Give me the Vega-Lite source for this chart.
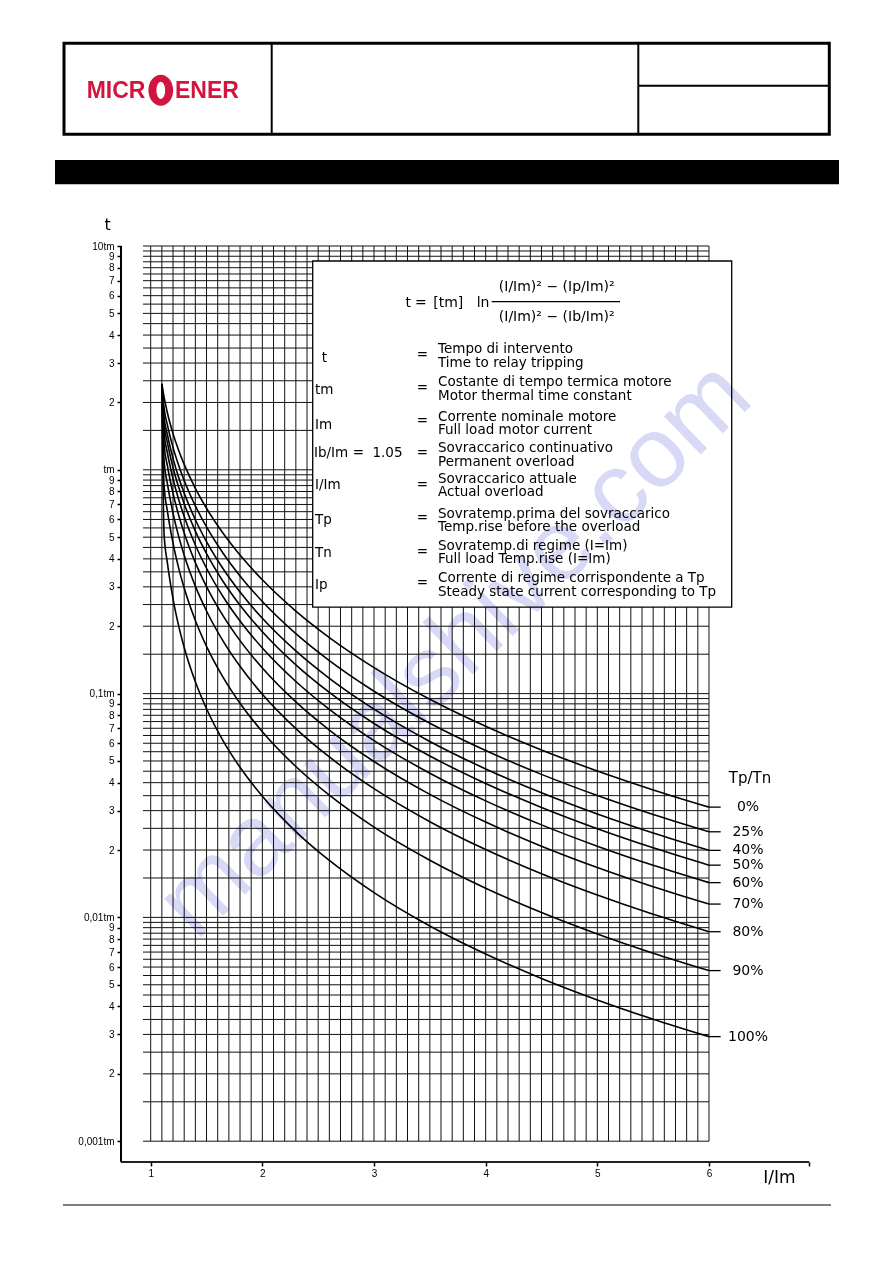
{
"$schema": "https://vega.github.io/schema/vega-lite/v6.json",
"width": 893, "height": 1263,
"autosize": {"type": "fit", "contains": "padding"},
"padding": 0,
"background": "white",
"config": {"view": {"stroke": null}},
"datasets": {
"one": [{}],
"vgrid": [{"x":1},{"x":1.1},{"x":1.2},{"x":1.3},{"x":1.4},{"x":1.5},{"x":1.6},{"x":1.7},{"x":1.8},{"x":1.9},{"x":2},{"x":2.1},{"x":2.2},{"x":2.3},{"x":2.4},{"x":2.5},{"x":2.6},{"x":2.7},{"x":2.8},{"x":2.9},{"x":3},{"x":3.1},{"x":3.2},{"x":3.3},{"x":3.4},{"x":3.5},{"x":3.6},{"x":3.7},{"x":3.8},{"x":3.9},{"x":4},{"x":4.1},{"x":4.2},{"x":4.3},{"x":4.4},{"x":4.5},{"x":4.6},{"x":4.7},{"x":4.8},{"x":4.9},{"x":5},{"x":5.1},{"x":5.2},{"x":5.3},{"x":5.4},{"x":5.5},{"x":5.6},{"x":5.7},{"x":5.8},{"x":5.9},{"x":6}],
"hgrid": [{"t":0.001},{"t":0.0015},{"t":0.002},{"t":0.0025},{"t":0.003},{"t":0.0035},{"t":0.004},{"t":0.0045},{"t":0.005},{"t":0.0055},{"t":0.006},{"t":0.0065},{"t":0.007},{"t":0.0075},{"t":0.008},{"t":0.0085},{"t":0.009},{"t":0.0095},
{"t":0.01},{"t":0.015},{"t":0.02},{"t":0.025},{"t":0.03},{"t":0.035},{"t":0.04},{"t":0.045},{"t":0.05},{"t":0.055},{"t":0.06},{"t":0.065},{"t":0.07},{"t":0.075},{"t":0.08},{"t":0.085},{"t":0.09},{"t":0.095},
{"t":0.1},{"t":0.15},{"t":0.2},{"t":0.25},{"t":0.3},{"t":0.35},{"t":0.4},{"t":0.45},{"t":0.5},{"t":0.55},{"t":0.6},{"t":0.65},{"t":0.7},{"t":0.75},{"t":0.8},{"t":0.85},{"t":0.9},{"t":0.95},
{"t":1},{"t":1.5},{"t":2},{"t":2.5},{"t":3},{"t":3.5},{"t":4},{"t":4.5},{"t":5},{"t":5.5},{"t":6},{"t":6.5},{"t":7},{"t":7.5},{"t":8},{"t":8.5},{"t":9},{"t":9.5},{"t":10}],
"ends": [{"label":"0%","t":0.0311},{"label":"25%","t":0.02413},{"label":"40%","t":0.01993},{"label":"50%","t":0.01712},{"label":"60%","t":0.0143},{"label":"70%","t":0.01147},{"label":"80%","t":0.008631},{"label":"90%","t":0.005786},{"label":"100%","t":0.002933}],
"curves": [
{"c":"0%","x":1.1,"t":2.42},{"c":"0%","x":1.12,"t":2.111},{"c":"0%","x":1.15,"t":1.794},{"c":"0%","x":1.2,"t":1.451},{"c":"0%","x":1.25,"t":1.223},{"c":"0%","x":1.3,"t":1.057},{"c":"0%","x":1.4,"t":0.8267},{"c":"0%","x":1.5,"t":0.6733},{"c":"0%","x":1.65,"t":0.5191},{"c":"0%","x":1.8,"t":0.4159},{"c":"0%","x":2.0,"t":0.3225},{"c":"0%","x":2.3,"t":0.2337},{"c":"0%","x":2.6,"t":0.178},{"c":"0%","x":3.0,"t":0.1307},{"c":"0%","x":3.5,"t":0.0943},{"c":"0%","x":4.0,"t":0.0714},{"c":"0%","x":4.5,"t":0.05598},{"c":"0%","x":5.0,"t":0.0451},{"c":"0%","x":5.5,"t":0.03713},{"c":"0%","x":6.0,"t":0.0311},
{"c":"25%","x":1.1,"t":2.42},{"c":"25%","x":1.12,"t":1.889},{"c":"25%","x":1.15,"t":1.584},{"c":"25%","x":1.2,"t":1.26},{"c":"25%","x":1.25,"t":1.049},{"c":"25%","x":1.3,"t":0.8965},{"c":"25%","x":1.4,"t":0.6902},{"c":"25%","x":1.5,"t":0.5556},{"c":"25%","x":1.65,"t":0.4228},{"c":"25%","x":1.8,"t":0.3356},{"c":"25%","x":2.0,"t":0.2579},{"c":"25%","x":2.3,"t":0.1853},{"c":"25%","x":2.6,"t":0.1404},{"c":"25%","x":3.0,"t":0.1025},{"c":"25%","x":3.5,"t":0.0737},{"c":"25%","x":4.0,"t":0.05565},{"c":"25%","x":4.5,"t":0.04356},{"c":"25%","x":5.0,"t":0.03505},{"c":"25%","x":5.5,"t":0.02883},{"c":"25%","x":6.0,"t":0.02413},
{"c":"40%","x":1.1,"t":2.42},{"c":"40%","x":1.12,"t":1.727},{"c":"40%","x":1.15,"t":1.434},{"c":"40%","x":1.2,"t":1.125},{"c":"40%","x":1.25,"t":0.9271},{"c":"40%","x":1.3,"t":0.7865},{"c":"40%","x":1.4,"t":0.5984},{"c":"40%","x":1.5,"t":0.4776},{"c":"40%","x":1.65,"t":0.3602},{"c":"40%","x":1.8,"t":0.2842},{"c":"40%","x":2.0,"t":0.2171},{"c":"40%","x":2.3,"t":0.1551},{"c":"40%","x":2.6,"t":0.117},{"c":"40%","x":3.0,"t":0.08521},{"c":"40%","x":3.5,"t":0.06112},{"c":"40%","x":4.0,"t":0.04608},{"c":"40%","x":4.5,"t":0.03603},{"c":"40%","x":5.0,"t":0.02897},{"c":"40%","x":5.5,"t":0.02382},{"c":"40%","x":6.0,"t":0.01993},
{"c":"50%","x":1.1,"t":2.42},{"c":"50%","x":1.12,"t":1.603},{"c":"50%","x":1.15,"t":1.319},{"c":"50%","x":1.2,"t":1.024},{"c":"50%","x":1.25,"t":0.8372},{"c":"50%","x":1.3,"t":0.7058},{"c":"50%","x":1.4,"t":0.5322},{"c":"50%","x":1.5,"t":0.422},{"c":"50%","x":1.65,"t":0.3162},{"c":"50%","x":1.8,"t":0.2483},{"c":"50%","x":2.0,"t":0.1889},{"c":"50%","x":2.3,"t":0.1344},{"c":"50%","x":2.6,"t":0.1012},{"c":"50%","x":3.0,"t":0.07352},{"c":"50%","x":3.5,"t":0.05264},{"c":"50%","x":4.0,"t":0.03965},{"c":"50%","x":4.5,"t":0.03098},{"c":"50%","x":5.0,"t":0.0249},{"c":"50%","x":5.5,"t":0.02046},{"c":"50%","x":6.0,"t":0.01712},
{"c":"60%","x":1.1,"t":2.42},{"c":"60%","x":1.12,"t":1.461},{"c":"60%","x":1.15,"t":1.189},{"c":"60%","x":1.2,"t":0.9118},{"c":"60%","x":1.25,"t":0.7383},{"c":"60%","x":1.3,"t":0.6181},{"c":"60%","x":1.4,"t":0.4612},{"c":"60%","x":1.5,"t":0.3632},{"c":"60%","x":1.65,"t":0.2702},{"c":"60%","x":1.8,"t":0.2111},{"c":"60%","x":2.0,"t":0.1599},{"c":"60%","x":2.3,"t":0.1133},{"c":"60%","x":2.6,"t":0.0851},{"c":"60%","x":3.0,"t":0.06169},{"c":"60%","x":3.5,"t":0.04409},{"c":"60%","x":4.0,"t":0.03317},{"c":"60%","x":4.5,"t":0.02591},{"c":"60%","x":5.0,"t":0.02081},{"c":"60%","x":5.5,"t":0.01709},{"c":"60%","x":6.0,"t":0.0143},
{"c":"70%","x":1.1,"t":2.42},{"c":"70%","x":1.12,"t":1.295},{"c":"70%","x":1.15,"t":1.04},{"c":"70%","x":1.2,"t":0.7851},{"c":"70%","x":1.25,"t":0.6286},{"c":"70%","x":1.3,"t":0.5218},{"c":"70%","x":1.4,"t":0.3849},{"c":"70%","x":1.5,"t":0.3007},{"c":"70%","x":1.65,"t":0.2219},{"c":"70%","x":1.8,"t":0.1725},{"c":"70%","x":2.0,"t":0.1301},{"c":"70%","x":2.3,"t":0.09177},{"c":"70%","x":2.6,"t":0.06873},{"c":"70%","x":3.0,"t":0.04971},{"c":"70%","x":3.5,"t":0.03547},{"c":"70%","x":4.0,"t":0.02666},{"c":"70%","x":4.5,"t":0.0208},{"c":"70%","x":5.0,"t":0.0167},{"c":"70%","x":5.5,"t":0.01371},{"c":"70%","x":6.0,"t":0.01147},
{"c":"80%","x":1.1,"t":2.42},{"c":"80%","x":1.12,"t":1.096},{"c":"80%","x":1.15,"t":0.865},{"c":"80%","x":1.2,"t":0.6399},{"c":"80%","x":1.25,"t":0.5054},{"c":"80%","x":1.3,"t":0.4154},{"c":"80%","x":1.4,"t":0.3022},{"c":"80%","x":1.5,"t":0.234},{"c":"80%","x":1.65,"t":0.1712},{"c":"80%","x":1.8,"t":0.1324},{"c":"80%","x":2.0,"t":0.0993},{"c":"80%","x":2.3,"t":0.06975},{"c":"80%","x":2.6,"t":0.05209},{"c":"80%","x":3.0,"t":0.03759},{"c":"80%","x":3.5,"t":0.02677},{"c":"80%","x":4.0,"t":0.0201},{"c":"80%","x":4.5,"t":0.01567},{"c":"80%","x":5.0,"t":0.01258},{"c":"80%","x":5.5,"t":0.01032},{"c":"80%","x":6.0,"t":0.008631},
{"c":"90%","x":1.1,"t":2.42},{"c":"90%","x":1.12,"t":0.8472},{"c":"90%","x":1.15,"t":0.6526},{"c":"90%","x":1.2,"t":0.47},{"c":"90%","x":1.25,"t":0.3648},{"c":"90%","x":1.3,"t":0.2962},{"c":"90%","x":1.4,"t":0.212},{"c":"90%","x":1.5,"t":0.1625},{"c":"90%","x":1.65,"t":0.1178},{"c":"90%","x":1.8,"t":0.09052},{"c":"90%","x":2.0,"t":0.06756},{"c":"90%","x":2.3,"t":0.04723},{"c":"90%","x":2.6,"t":0.03517},{"c":"90%","x":3.0,"t":0.02532},{"c":"90%","x":3.5,"t":0.018},{"c":"90%","x":4.0,"t":0.0135},{"c":"90%","x":4.5,"t":0.01052},{"c":"90%","x":5.0,"t":0.008438},{"c":"90%","x":5.5,"t":0.006923},{"c":"90%","x":6.0,"t":0.005786},
{"c":"100%","x":1.1,"t":2.42},{"c":"100%","x":1.12,"t":0.5157},{"c":"100%","x":1.15,"t":0.3825},{"c":"100%","x":1.2,"t":0.2652},{"c":"100%","x":1.25,"t":0.2012},{"c":"100%","x":1.3,"t":0.1608},{"c":"100%","x":1.4,"t":0.1129},{"c":"100%","x":1.5,"t":0.08556},{"c":"100%","x":1.65,"t":0.06135},{"c":"100%","x":1.8,"t":0.04684},{"c":"100%","x":2.0,"t":0.03476},{"c":"100%","x":2.3,"t":0.02418},{"c":"100%","x":2.6,"t":0.01796},{"c":"100%","x":3.0,"t":0.0129},{"c":"100%","x":3.5,"t":0.009153},{"c":"100%","x":4.0,"t":0.006857},{"c":"100%","x":4.5,"t":0.005339},{"c":"100%","x":5.0,"t":0.00428},{"c":"100%","x":5.5,"t":0.00351},{"c":"100%","x":6.0,"t":0.002933}
]
},
"layer": [
{"data": {"name": "vgrid"}, "mark": {"type": "rule", "color": "#111", "strokeWidth": 1},
 "encoding": {
  "x": {"field": "x", "type": "quantitative",
        "scale": {"type": "linear", "domain": [-0.3496, 7.648], "nice": false, "zero": false},
        "axis": {"orient": "bottom", "offset": -101, "domain": false, "grid": false, "title": null,
                 "values": [1, 2, 3, 4, 5, 6, 6.898], "ticks": true, "tickSize": 4, "tickWidth": 1.5, "tickColor": "black",
                 "labelFont": "Liberation Sans", "labelFontSize": 10, "labelColor": "black", "labelPadding": 2,
                 "labelFlush": false, "labelOverlap": false,
                 "labelExpr": "datum.value > 6.5 ? '' : format(datum.value, 'd')"}},
  "y": {"datum": 0.001, "type": "quantitative",
        "scale": {"type": "log", "domain": [0.0002856, 125.68], "nice": false},
        "axis": {"orient": "left", "offset": -121, "domain": false, "grid": false, "title": null,
                 "values": [0.001,0.002,0.003,0.004,0.005,0.006,0.007,0.008,0.009,0.01,0.02,0.03,0.04,0.05,0.06,0.07,0.08,0.09,0.1,0.2,0.3,0.4,0.5,0.6,0.7,0.8,0.9,1,2,3,4,5,6,7,8,9,10],
                 "ticks": true, "tickSize": 4, "tickWidth": 1.5, "tickColor": "black",
                 "labelFont": "Liberation Sans", "labelFontSize": 10, "labelColor": "black", "labelPadding": 3,
                 "labelFlush": false, "labelOverlap": false,
                 "labelExpr": "datum.value > 9.5 ? '10tm' : abs(datum.value - 1) < 1e-6 ? 'tm' : abs(datum.value - 0.1) < 1e-7 ? '0,1tm' : abs(datum.value - 0.01) < 1e-8 ? '0,01tm' : abs(datum.value - 0.001) < 1e-9 ? '0,001tm' : format(datum.value / pow(10, floor(log(datum.value) / LN10 + 1e-6)), '.0f')"}},
  "y2": {"datum": 10}}},
{"data": {"name": "hgrid"}, "mark": {"type": "rule", "color": "#111", "strokeWidth": 1},
 "encoding": {"x": {"datum": 0.9311}, "x2": {"datum": 6}, "y": {"field": "t", "type": "quantitative"}}},
{"data": {"name": "curves"}, "mark": {"type": "line", "color": "black", "strokeWidth": 1.6, "interpolate": "monotone"},
 "encoding": {"x": {"field": "x", "type": "quantitative"}, "y": {"field": "t", "type": "quantitative"}, "detail": {"field": "c"}, "order": {"field": "x", "type": "quantitative"}}},
{"data": {"name": "one"}, "mark": {"type": "rect", "fill": "white", "stroke": "black", "strokeWidth": 1.3},
 "encoding": {"x": {"datum": 2.4509}, "x2": {"datum": 6.2034}, "y": {"datum": 8.57}, "y2": {"datum": 0.2437}}},
{"data": {"name": "one"}, "mark": {"type": "text", "text": "manualshive.com", "font": "Liberation Sans", "fontSize": 100, "angle": 316, "align": "center", "baseline": "middle", "color": "#d8d8f7", "blend": "multiply"},
 "encoding": {"x": {"datum": 3.7253}, "y": {"datum": 0.1566}}},
{"data": {"name": "ends"}, "mark": {"type": "rule", "color": "black", "strokeWidth": 1.3},
 "encoding": {"x": {"datum": 6}, "x2": {"datum": 6.1048}, "y": {"field": "t", "type": "quantitative"}}},
{"data": {"name": "ends"}, "mark": {"type": "text", "font": "DejaVu Sans", "fontSize": 14, "align": "center", "baseline": "middle", "color": "black"},
 "encoding": {"x": {"datum": 6.3493}, "y": {"field": "t", "type": "quantitative"}, "text": {"field": "label"}}},
{"data": {"name": "one"}, "mark": {"type": "text", "text": "Tp/Tn", "font": "DejaVu Sans", "fontSize": 15, "align": "center", "baseline": "middle", "color": "black"},
 "encoding": {"x": {"datum": 6.3672}, "y": {"datum": 0.04197}}},
{"data": {"name": "one"}, "mark": {"type": "rule", "color": "black", "strokeWidth": 2},
 "encoding": {"x": {"datum": 0.734}, "y": {"datum": 10}, "y2": {"datum": 0.000807}}},
{"data": {"name": "one"}, "mark": {"type": "rule", "color": "#222", "strokeWidth": 2},
 "encoding": {"x": {"datum": 0.734}, "x2": {"datum": 6.8983}, "y": {"datum": 0.000807}}},
{"data": {"name": "one"}, "mark": {"type": "text", "text": "t", "font": "DejaVu Sans", "fontSize": 16, "align": "center", "baseline": "middle", "color": "black"},
 "encoding": {"x": {"datum": 0.6149}, "y": {"datum": 12.41}}},
{"data": {"name": "one"}, "mark": {"type": "text", "text": "I/Im", "font": "DejaVu Sans", "fontSize": 17, "align": "center", "baseline": "middle", "color": "black"},
 "encoding": {"x": {"datum": 6.6314}, "y": {"datum": 0.0006848}}},
{"data": {"name": "one"}, "mark": {"type": "rect", "filled": false, "stroke": "black", "strokeWidth": 3},
 "encoding": {"x": {"datum": 0.2236}, "x2": {"datum": 7.0774}, "y": {"datum": 80.5}, "y2": {"datum": 31.56}}},
{"data": {"name": "one"}, "mark": {"type": "rule", "color": "black", "strokeWidth": 2},
 "encoding": {"x": {"datum": 2.0837}, "y": {"datum": 80.5}, "y2": {"datum": 31.56}}},
{"data": {"name": "one"}, "mark": {"type": "rule", "color": "black", "strokeWidth": 2},
 "encoding": {"x": {"datum": 5.3669}, "y": {"datum": 80.5}, "y2": {"datum": 31.56}}},
{"data": {"name": "one"}, "mark": {"type": "rule", "color": "black", "strokeWidth": 2},
 "encoding": {"x": {"datum": 5.3669}, "x2": {"datum": 7.0774}, "y": {"datum": 52.03}}},
{"data": {"name": "one"}, "mark": {"type": "rect", "color": "black"},
 "encoding": {"x": {"datum": 0.143}, "x2": {"datum": 7.1643}, "y": {"datum": 24.22}, "y2": {"datum": 18.87}}},
{"data": {"name": "one"}, "mark": {"type": "rule", "color": "black", "strokeWidth": 1.2},
 "encoding": {"x": {"datum": 0.2146}, "x2": {"datum": 7.0927}, "y": {"datum": 0.0005187}}},
{"data": {"name": "one"}, "mark": {"type": "text", "text": "MICR", "font": "Liberation Sans", "fontWeight": "bold", "fontSize": 23, "align": "left", "baseline": "alphabetic", "color": "#d2143f"},
 "encoding": {"x": {"datum": 0.4269}, "y": {"datum": 45.7}}},
{"data": {"name": "one"}, "mark": {"type": "point", "filled": true, "color": "#d2143f", "opacity": 1, "size": 961,
  "shape": "M -0.8 0 A 0.8 1 0 1 0 0.8 0 A 0.8 1 0 1 0 -0.8 0 Z M -0.28 0 A 0.28 0.56 0 1 1 0.28 0 A 0.28 0.56 0 1 1 -0.28 0 Z"},
 "encoding": {"x": {"datum": 1.0905}, "y": {"datum": 49.6}}},
{"data": {"name": "one"}, "mark": {"type": "text", "text": "ENER", "font": "Liberation Sans", "fontWeight": "bold", "fontSize": 23, "align": "left", "baseline": "alphabetic", "color": "#d2143f"},
 "encoding": {"x": {"datum": 1.2177}, "y": {"datum": 45.7}}},
{"data": {"name": "one"}, "mark": {"type": "text", "text": "t", "font": "DejaVu Sans", "fontSize": 14, "align": "center", "baseline": "middle", "color": "black"},
 "encoding": {"x": {"datum": 3.307}, "y": {"datum": 5.565}}},
{"data": {"name": "one"}, "mark": {"type": "text", "text": "=", "font": "DejaVu Sans", "fontSize": 14, "align": "center", "baseline": "middle", "color": "black"},
 "encoding": {"x": {"datum": 3.419}, "y": {"datum": 5.565}}},
{"data": {"name": "one"}, "mark": {"type": "text", "text": "[tm]", "font": "DejaVu Sans", "fontSize": 14, "align": "center", "baseline": "middle", "color": "black"},
 "encoding": {"x": {"datum": 3.6653}, "y": {"datum": 5.565}}},
{"data": {"name": "one"}, "mark": {"type": "text", "text": "ln", "font": "DejaVu Sans", "fontSize": 14, "align": "center", "baseline": "middle", "color": "black"},
 "encoding": {"x": {"datum": 3.9768}, "y": {"datum": 5.565}}},
{"data": {"name": "one"}, "mark": {"type": "text", "text": "(I/Im)² − (Ip/Im)²", "font": "DejaVu Sans", "fontSize": 14, "align": "center", "baseline": "middle", "color": "black"},
 "encoding": {"x": {"datum": 4.6361}, "y": {"datum": 6.578}}},
{"data": {"name": "one"}, "mark": {"type": "text", "text": "(I/Im)² − (Ib/Im)²", "font": "DejaVu Sans", "fontSize": 14, "align": "center", "baseline": "middle", "color": "black"},
 "encoding": {"x": {"datum": 4.6361}, "y": {"datum": 4.831}}},
{"data": {"name": "one"}, "mark": {"type": "rule", "color": "black", "strokeWidth": 1.2},
 "encoding": {"x": {"datum": 4.0539}, "x2": {"datum": 5.203}, "y": {"datum": 5.64}}},
{"data": {"name": "one"}, "mark": {"type": "text", "text": "t", "font": "DejaVu Sans", "fontSize": 13.5, "align": "left", "baseline": "middle", "color": "black"},
 "encoding": {"x": {"datum": 2.5314}, "y": {"datum": 3.159}}},
{"data": {"name": "one"}, "mark": {"type": "text", "text": "tm", "font": "DejaVu Sans", "fontSize": 13.5, "align": "left", "baseline": "middle", "color": "black"},
 "encoding": {"x": {"datum": 2.4714}, "y": {"datum": 2.273}}},
{"data": {"name": "one"}, "mark": {"type": "text", "text": "Im", "font": "DejaVu Sans", "fontSize": 13.5, "align": "left", "baseline": "middle", "color": "black"},
 "encoding": {"x": {"datum": 2.4714}, "y": {"datum": 1.586}}},
{"data": {"name": "one"}, "mark": {"type": "text", "text": "Ib/Im", "font": "DejaVu Sans", "fontSize": 13.5, "align": "left", "baseline": "middle", "color": "black"},
 "encoding": {"x": {"datum": 2.4625}, "y": {"datum": 1.185}}},
{"data": {"name": "one"}, "mark": {"type": "text", "text": "=", "font": "DejaVu Sans", "fontSize": 13.5, "align": "center", "baseline": "middle", "color": "black"},
 "encoding": {"x": {"datum": 2.86}, "y": {"datum": 1.185}}},
{"data": {"name": "one"}, "mark": {"type": "text", "text": "1.05", "font": "DejaVu Sans", "fontSize": 13.5, "align": "center", "baseline": "middle", "color": "black"},
 "encoding": {"x": {"datum": 3.1207}, "y": {"datum": 1.185}}},
{"data": {"name": "one"}, "mark": {"type": "text", "text": "I/Im", "font": "DejaVu Sans", "fontSize": 13.5, "align": "left", "baseline": "middle", "color": "black"},
 "encoding": {"x": {"datum": 2.4714}, "y": {"datum": 0.855}}},
{"data": {"name": "one"}, "mark": {"type": "text", "text": "Tp", "font": "DejaVu Sans", "fontSize": 13.5, "align": "left", "baseline": "middle", "color": "black"},
 "encoding": {"x": {"datum": 2.4714}, "y": {"datum": 0.597}}},
{"data": {"name": "one"}, "mark": {"type": "text", "text": "Tn", "font": "DejaVu Sans", "fontSize": 13.5, "align": "left", "baseline": "middle", "color": "black"},
 "encoding": {"x": {"datum": 2.4714}, "y": {"datum": 0.4235}}},
{"data": {"name": "one"}, "mark": {"type": "text", "text": "Ip", "font": "DejaVu Sans", "fontSize": 13.5, "align": "left", "baseline": "middle", "color": "black"},
 "encoding": {"x": {"datum": 2.4714}, "y": {"datum": 0.3056}}},
{"data": {"name": "one"}, "mark": {"type": "text", "text": "=", "font": "DejaVu Sans", "fontSize": 13.5, "align": "center", "baseline": "middle", "color": "black"},
 "encoding": {"x": {"datum": 3.4342}, "y": {"datum": 3.257}}},
{"data": {"name": "one"}, "mark": {"type": "text", "text": "=", "font": "DejaVu Sans", "fontSize": 13.5, "align": "center", "baseline": "middle", "color": "black"},
 "encoding": {"x": {"datum": 3.4342}, "y": {"datum": 2.32}}},
{"data": {"name": "one"}, "mark": {"type": "text", "text": "=", "font": "DejaVu Sans", "fontSize": 13.5, "align": "center", "baseline": "middle", "color": "black"},
 "encoding": {"x": {"datum": 3.4342}, "y": {"datum": 1.657}}},
{"data": {"name": "one"}, "mark": {"type": "text", "text": "=", "font": "DejaVu Sans", "fontSize": 13.5, "align": "center", "baseline": "middle", "color": "black"},
 "encoding": {"x": {"datum": 3.4342}, "y": {"datum": 1.185}}},
{"data": {"name": "one"}, "mark": {"type": "text", "text": "=", "font": "DejaVu Sans", "fontSize": 13.5, "align": "center", "baseline": "middle", "color": "black"},
 "encoding": {"x": {"datum": 3.4342}, "y": {"datum": 0.855}}},
{"data": {"name": "one"}, "mark": {"type": "text", "text": "=", "font": "DejaVu Sans", "fontSize": 13.5, "align": "center", "baseline": "middle", "color": "black"},
 "encoding": {"x": {"datum": 3.4342}, "y": {"datum": 0.607}}},
{"data": {"name": "one"}, "mark": {"type": "text", "text": "=", "font": "DejaVu Sans", "fontSize": 13.5, "align": "center", "baseline": "middle", "color": "black"},
 "encoding": {"x": {"datum": 3.4342}, "y": {"datum": 0.4305}}},
{"data": {"name": "one"}, "mark": {"type": "text", "text": "=", "font": "DejaVu Sans", "fontSize": 13.5, "align": "center", "baseline": "middle", "color": "black"},
 "encoding": {"x": {"datum": 3.4342}, "y": {"datum": 0.311}}},
{"data": {"name": "one"}, "mark": {"type": "text", "text": ["Tempo di intervento", "Time to relay tripping"], "lineHeight": 13.5, "font": "DejaVu Sans", "fontSize": 13.5, "align": "left", "baseline": "middle", "color": "black"},
 "encoding": {"x": {"datum": 3.573}, "y": {"datum": 3.4613}}},
{"data": {"name": "one"}, "mark": {"type": "text", "text": ["Costante di tempo termica motore", "Motor thermal time constant"], "lineHeight": 13.5, "font": "DejaVu Sans", "fontSize": 13.5, "align": "left", "baseline": "middle", "color": "black"},
 "encoding": {"x": {"datum": 3.573}, "y": {"datum": 2.4577}}},
{"data": {"name": "one"}, "mark": {"type": "text", "text": ["Corrente nominale motore", "Full load motor current"], "lineHeight": 13.5, "font": "DejaVu Sans", "fontSize": 13.5, "align": "left", "baseline": "middle", "color": "black"},
 "encoding": {"x": {"datum": 3.573}, "y": {"datum": 1.7234}}},
{"data": {"name": "one"}, "mark": {"type": "text", "text": ["Sovraccarico continuativo", "Permanent overload"], "lineHeight": 13.5, "font": "DejaVu Sans", "fontSize": 13.5, "align": "left", "baseline": "middle", "color": "black"},
 "encoding": {"x": {"datum": 3.573}, "y": {"datum": 1.2481}}},
{"data": {"name": "one"}, "mark": {"type": "text", "text": ["Sovraccarico attuale", "Actual overload"], "lineHeight": 13.5, "font": "DejaVu Sans", "fontSize": 13.5, "align": "left", "baseline": "middle", "color": "black"},
 "encoding": {"x": {"datum": 3.573}, "y": {"datum": 0.9121}}},
{"data": {"name": "one"}, "mark": {"type": "text", "text": ["Sovratemp.prima del sovraccarico", "Temp.rise before the overload"], "lineHeight": 13.5, "font": "DejaVu Sans", "fontSize": 13.5, "align": "left", "baseline": "middle", "color": "black"},
 "encoding": {"x": {"datum": 3.573}, "y": {"datum": 0.6375}}},
{"data": {"name": "one"}, "mark": {"type": "text", "text": ["Sovratemp.di regime (I=Im)", "Full load Temp.rise (I=Im)"], "lineHeight": 13.5, "font": "DejaVu Sans", "fontSize": 13.5, "align": "left", "baseline": "middle", "color": "black"},
 "encoding": {"x": {"datum": 3.573}, "y": {"datum": 0.4577}}},
{"data": {"name": "one"}, "mark": {"type": "text", "text": ["Corrente di regime corrispondente a Tp", "Steady state current corresponding to Tp"], "lineHeight": 13.5, "font": "DejaVu Sans", "fontSize": 13.5, "align": "left", "baseline": "middle", "color": "black"},
 "encoding": {"x": {"datum": 3.573}, "y": {"datum": 0.3277}}}
]
}
